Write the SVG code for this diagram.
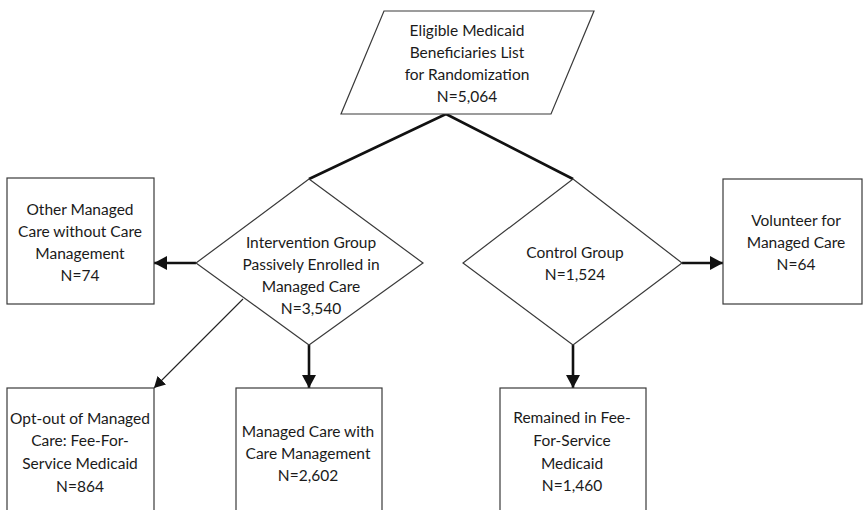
<svg xmlns="http://www.w3.org/2000/svg" width="863" height="510" viewBox="0 0 863 510">
<style>
.shape{fill:#fff;stroke:#3a3a3a;stroke-width:1.2}
.t{font-family:Lato,"Liberation Sans",sans-serif;font-size:15.5px;fill:#1a1a1a;text-anchor:middle}
.thick{fill:none;stroke:#111;stroke-width:2.6}
.thin{fill:none;stroke:#222;stroke-width:1.1}
</style>
<defs>
<marker id="ah" markerUnits="userSpaceOnUse" markerWidth="14" markerHeight="14" refX="13" refY="7" orient="auto">
<path d="M0,0 L13,7 L0,14 Z" fill="#111"/>
</marker>
<marker id="ahs" markerUnits="userSpaceOnUse" markerWidth="12" markerHeight="12" refX="11" refY="6" orient="auto">
<path d="M0,0 L11,6 L0,12 Z" fill="#111"/>
</marker>
</defs>
<g id="connectors">
<polyline class="thick" points="309,179 446,114 573,179"/>
<line class="thick" x1="196" y1="263" x2="154" y2="263" marker-end="url(#ah)"/>
<line class="thick" x1="682" y1="263" x2="723" y2="263" marker-end="url(#ah)"/>
<line class="thick" x1="309" y1="345" x2="309" y2="388" marker-end="url(#ah)"/>
<line class="thick" x1="573" y1="345" x2="573" y2="388" marker-end="url(#ah)"/>
<line class="thin" x1="243" y1="299" x2="154" y2="388" marker-end="url(#ahs)"/>
</g>
<g id="eligible">
<polygon class="shape" points="384,11 594,11 551,114 341,114"/>
<text class="t" x="467" y="36">Eligible Medicaid</text>
<text class="t" x="467" y="58">Beneficiaries List</text>
<text class="t" x="467" y="80">for Randomization</text>
<text class="t" x="467" y="102">N=5,064</text>
</g>
<g id="intervention">
<polygon class="shape" points="309,179 423,263 309,345 196,263"/>
<text class="t" x="311" y="248">Intervention Group</text>
<text class="t" x="311" y="270">Passively Enrolled in</text>
<text class="t" x="311" y="292">Managed Care</text>
<text class="t" x="311" y="314">N=3,540</text>
</g>
<g id="control">
<polygon class="shape" points="573,179 682,263 573,345 463,263"/>
<text class="t" x="575" y="258">Control Group</text>
<text class="t" x="575" y="280">N=1,524</text>
</g>
<g id="other">
<rect class="shape" x="7" y="178" width="147" height="126"/>
<text class="t" x="80" y="215">Other Managed</text>
<text class="t" x="80" y="237">Care without Care</text>
<text class="t" x="80" y="259">Management</text>
<text class="t" x="80" y="281">N=74</text>
</g>
<g id="volunteer">
<rect class="shape" x="723" y="179" width="139" height="125"/>
<text class="t" x="796" y="226">Volunteer for</text>
<text class="t" x="796" y="248">Managed Care</text>
<text class="t" x="796" y="270">N=64</text>
</g>
<g id="optout">
<rect class="shape" x="7" y="388" width="147" height="130"/>
<text class="t" x="80" y="424">Opt-out of Managed</text>
<text class="t" x="80" y="446">Care: Fee-For-</text>
<text class="t" x="80" y="469">Service Medicaid</text>
<text class="t" x="80" y="492">N=864</text>
</g>
<g id="managed">
<rect class="shape" x="236" y="388" width="146" height="130"/>
<text class="t" x="308" y="437">Managed Care with</text>
<text class="t" x="308" y="459">Care Management</text>
<text class="t" x="308" y="481">N=2,602</text>
</g>
<g id="remained">
<rect class="shape" x="500" y="388" width="146" height="130"/>
<text class="t" x="572" y="423">Remained in Fee-</text>
<text class="t" x="572" y="446">For-Service</text>
<text class="t" x="572" y="469">Medicaid</text>
<text class="t" x="572" y="491">N=1,460</text>
</g>
</svg>
